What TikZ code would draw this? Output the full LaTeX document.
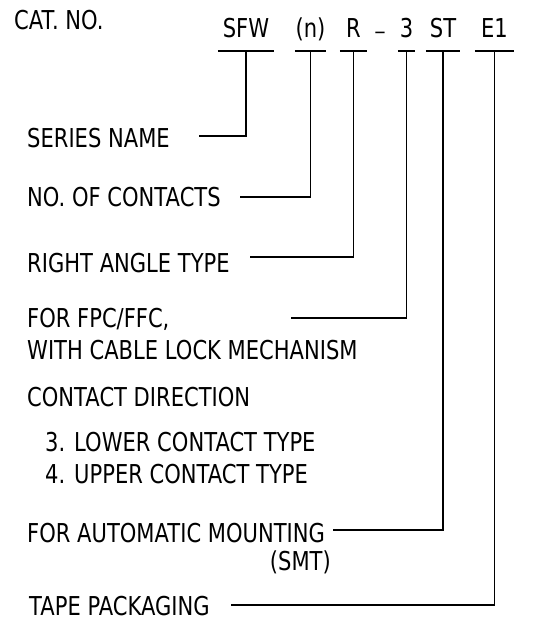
\documentclass[tikz,border=0pt]{standalone}
\usepackage{fontspec}
\setmainfont{DejaVu Sans}[FakeStretch=0.81]
\usepackage{tikz}
\usetikzlibrary{positioning}
\tikzstyle{codepart}=[inner sep=0pt, anchor=south, text height=17pt, text depth=13pt, font=\fontsize{26}{32}\selectfont]
\tikzstyle{descr}=[inner sep=0pt, anchor=base west, font=\fontsize{26}{32}\selectfont]
\tikzstyle{leader}=[line width=1.8pt, to path={-| (\tikztotarget)}]
\newcommand{\codepart}{\node[codepart]}
\newcommand{\descr}{\node[descr]}

\begin{document}
\begin{tikzpicture}[x=1pt, y=-1pt]
                    \useasboundingbox (0,0) rectangle (555,623);
                    \descr (catno) at (14,30) {CAT. NO.};
                    % catalogue number parts
                    \codepart (sfw) at (246,51) [minimum width=56pt] {SFW};
                    \codepart (pn) at (310.5,51) [minimum width=31pt] {(n)};
                    \codepart (ra) at (353.5,51) [minimum width=27pt] {R};
                    \node[descr, anchor=base, font=\fontsize{22}{26}\selectfont] (dash) at (380,28.5) {\_};
                    \codepart (three) at (406.5,51) [minimum width=17pt] {3};
                    \codepart (st) at (443,51) [minimum width=34pt] {ST};
                    \codepart (e1) at (494.5,51) [minimum width=39pt] {E1};
                    \foreach \p in {sfw,pn,ra,three,st,e1}
                        \draw[line width=1.8pt] (\p.south west) -- (\p.south east);
                    % descriptions
                    \descr (series) at (27,147) {SERIES NAME};
                    \descr (contacts) at (27,206) {NO. OF CONTACTS};
                    \descr (angle) at (27,272) {RIGHT ANGLE TYPE};
                    \descr (fpc) at (27,327) {FOR FPC/FFC,};
                    \descr (lock) at (27,359) {WITH CABLE LOCK MECHANISM};
                    \descr (dir) at (27,406) {CONTACT DIRECTION};
                    \descr (lower) at (45,451) {3. LOWER CONTACT TYPE};
                    \descr (upper) at (45,483) {4. UPPER CONTACT TYPE};
                    \descr (auto) at (27,542) {FOR AUTOMATIC MOUNTING};
                    \node[descr, anchor=base east] (smt) at (331,570) {(SMT)};
                    \descr (tape) at (29,615) {TAPE PACKAGING};
                    % leader starts
                    \coordinate (s1) at (199,136);
                    \coordinate (s2) at (240,197);
                    \coordinate (s3) at (250,257);
                    \coordinate (s4) at (291,318);
                    \coordinate (s5) at (333,530);
                    \coordinate (s6) at (231,605);
                    \path
                        (s1) edge[leader] (sfw.south)
                        (s2) edge[leader] (pn.south)
                        (s3) edge[leader] (ra.south)
                        (s4) edge[leader] (three.south)
                        (s5) edge[leader] (st.south)
                        (s6) edge[leader] (e1.south)
                    ;
                \end{tikzpicture}
\end{document}
